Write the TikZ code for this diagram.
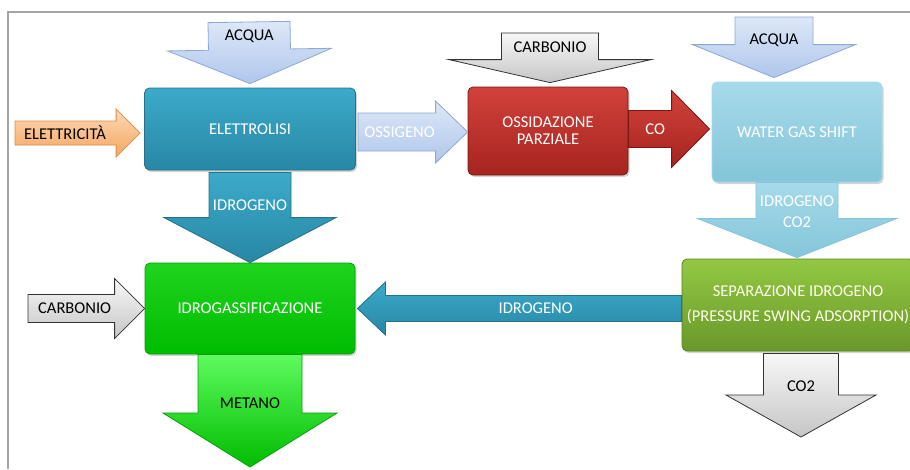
\documentclass[tikz,border=0pt]{standalone}
\usepackage{fontspec}
\setmainfont{Carlito}
\usetikzlibrary{calc,shadows}

\definecolor{framegray}{HTML}{A4A4A4}
\definecolor{tealtop}{HTML}{3CAACA}
\definecolor{tealbot}{HTML}{2887A4}
\definecolor{tealline}{HTML}{23718A}
\definecolor{icetop}{HTML}{A6DAEA}
\definecolor{icebot}{HTML}{84C5D9}
\definecolor{skytop}{HTML}{DDE8F7}
\definecolor{skybot}{HTML}{AFC6EC}
\definecolor{skyline}{HTML}{8EA8D4}
\definecolor{redtop}{HTML}{D2413B}
\definecolor{redbot}{HTML}{A6241F}
\definecolor{redline}{HTML}{7A1713}
\definecolor{greentop}{HTML}{1ED41E}
\definecolor{greenbot}{HTML}{00BC00}
\definecolor{greenline}{HTML}{07A007}
\definecolor{olivetop}{HTML}{93C843}
\definecolor{olivebot}{HTML}{6A982A}
\definecolor{oliveline}{HTML}{5A8322}
\definecolor{orangetop}{HTML}{FDD8B4}
\definecolor{orangebot}{HTML}{F4A762}
\definecolor{orangeline}{HTML}{DB8A48}

% block arrow: fill style, label style, from, to, shaft half width, head half width, head length, label pos, label
\newcommand{\blockarrow}[9]{%
  \coordinate (hb) at ($(#4)!#7!(#3)$);
  \draw[#1] ($(#3)!#5!90:(#4)$) -- ($(hb)!#5!90:(#4)$) -- ($(hb)!#6!90:(#4)$) -- (#4)
    -- ($(hb)!#6!-90:(#4)$) -- ($(hb)!#5!-90:(#4)$) -- ($(#3)!#5!-90:(#4)$) -- cycle;
  \node[#2] at ($(#3)!#8!(#4)$) {#9};
}

\begin{document}
\begin{tikzpicture}[x=1pt,y=-1pt,
  font=\fontsize{16.5}{20}\selectfont,
  box/.style={rounded corners=5pt, align=center, text=white, line width=0.8pt,
    drop shadow={opacity=0.35, shadow xshift=1.5pt, shadow yshift=-2pt}},
  darklabel/.style={text=black, align=center},
  lightlabel/.style={text=white, align=center, font=\fontsize{16.5}{21}\selectfont},
  skyflow/.style={top color=skytop, bottom color=skybot, draw=skyline, line width=0.8pt},
  orangeflow/.style={top color=orangetop, bottom color=orangebot, draw=orangeline, line width=0.8pt},
  grayflow/.style={top color=gray!6, bottom color=gray!45, draw=black!80, line width=0.8pt},
  tealflow/.style={top color=tealtop, bottom color=tealbot, draw=tealline, line width=0.8pt},
  redflow/.style={top color=redtop, bottom color=redbot, draw=redline, line width=0.8pt},
  iceflow/.style={top color=icetop, bottom color=icebot, draw=icebot, line width=0.8pt},
  greenflow/.style={top color=green!60!white!90!greentop, bottom color=greenbot, draw=greenline, line width=0.8pt}]
\useasboundingbox (0,0) rectangle (910,469);
\draw[framegray, line width=1.5pt] (910,12) -- (8,12) -- (8,469);

% process boxes
\node[box, minimum width=211, minimum height=82, top color=tealtop, bottom color=tealbot, draw=tealline] (elettrolisi) at (250,129) {ELETTROLISI};
\node[box, minimum width=160, minimum height=88, top color=redtop, bottom color=redbot, draw=redline] (ossidazione) at (548,131) {OSSIDAZIONE\\[-3pt]PARZIALE};
\node[box, minimum width=170, minimum height=100, top color=icetop, bottom color=icebot, draw=icetop] (wgs) at (797,132) {WATER GAS SHIFT};
\node[box, minimum width=210, minimum height=91, top color=greentop, bottom color=greenbot, draw=greenline] (idrogass) at (250,308.5) {IDROGASSIFICAZIONE};
\node[box, minimum width=232, minimum height=92, top color=olivetop, bottom color=olivebot, draw=oliveline, text=yellow!8!white, font=\fontsize{16.5}{25}\selectfont] (separazione) at (798,305) {SEPARAZIONE IDROGENO\\(PRESSURE SWING ADSORPTION)};

% free ends of the flows
\coordinate (acqua1) at (249,22);
\coordinate (acqua1 tip) at ($(elettrolisi.north)+(0,-4)$);
\coordinate (elettricita) at (15,133);
\coordinate (elettricita tip) at ($(elettrolisi.west)+(-4,4)$);
\coordinate (ossigeno) at ($(elettrolisi.east)+(2,3)$);
\coordinate (ossigeno tip) at ($(ossidazione.west)+(0,1)$);
\coordinate (carbonio1) at (550,33);
\coordinate (carbonio1 tip) at ($(ossidazione.north)+(2,-4)$);
\coordinate (co) at ($(ossidazione.east)+(0,-2)$);
\coordinate (co tip) at ($(wgs.west)+(-2,-3)$);
\coordinate (acqua2) at (774,17);
\coordinate (acqua2 tip) at ($(wgs.north)+(-23,-4)$);
\coordinate (idrogeno1) at ($(elettrolisi.south)+(0,2)$);
\coordinate (idrogeno2 tip) at ($(separazione.north)+(-1,-1)$);
\coordinate (idrogeno3) at (separazione.west |- idrogass.east);
\coordinate (idrogeno3 tip) at ($(idrogass.east)+(2,0)$);
\coordinate (carbonio2) at (28,308.5);
\coordinate (metano tip) at (250,467);
\coordinate (co2) at ($(separazione.south)+(3,2)$);
\coordinate (co2 tip) at (801,437);

% flows
\blockarrow{skyflow}{darklabel}{acqua1}{acqua1 tip}{41pt}{82pt}{34pt}{0.23}{ACQUA}
\blockarrow{orangeflow}{darklabel}{elettricita}{elettricita tip}{12pt}{24pt}{24pt}{0.4}{ELETTRICITÀ}
\blockarrow{skyflow}{lightlabel}{ossigeno}{ossigeno tip}{19pt}{31pt}{32pt}{0.38}{OSSIGENO}
\blockarrow{grayflow}{darklabel}{carbonio1}{carbonio1 tip}{48.5pt}{101pt}{23pt}{0.28}{CARBONIO}
\blockarrow{redflow}{lightlabel}{co}{co tip}{18.5pt}{38.5pt}{38pt}{0.33}{CO}
\blockarrow{skyflow}{darklabel}{acqua2}{acqua2 tip}{39pt}{81.5pt}{33pt}{0.38}{ACQUA}
\blockarrow{tealflow}{lightlabel}{idrogeno1}{idrogass.north}{41pt}{86pt}{45pt}{0.36}{IDROGENO}
\blockarrow{iceflow}{lightlabel}{wgs.south}{idrogeno2 tip}{41pt}{99.5pt}{39pt}{0.39}{IDROGENO\\CO2}
\blockarrow{tealflow}{lightlabel}{idrogeno3}{idrogeno3 tip}{13pt}{26.5pt}{28pt}{0.45}{IDROGENO}
\blockarrow{grayflow}{darklabel}{carbonio2}{idrogass.west}{14pt}{30pt}{30pt}{0.4}{CARBONIO}
\blockarrow{greenflow}{darklabel}{idrogass.south}{metano tip}{52pt}{87pt}{54pt}{0.43}{METANO}
\blockarrow{grayflow}{darklabel}{co2}{co2 tip}{37.5pt}{75pt}{42pt}{0.39}{CO2}
\end{tikzpicture}
\end{document}
